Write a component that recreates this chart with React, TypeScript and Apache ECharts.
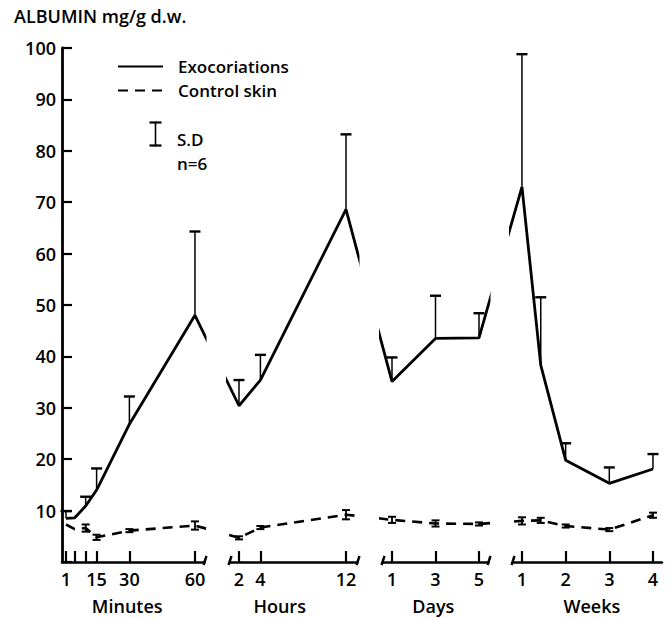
import React, { useEffect, useRef } from "react";
import * as echarts from "echarts";

// ---- Data ----
const minuteTimes = [1, 5, 10, 15, 30, 60];
const minuteExo = [8.5, 8.6, 10.9, 14.0, 26.8, 48.0];
const minuteExoSD = [1.4, null, 1.8, 4.2, 5.4, 16.3];
const minuteCtrl = [7.3, 6.4, 6.6, 4.8, 6.1, 7.1];
const minuteCtrlSD = [null, null, 0.7, 0.5, 0.3, 0.8];
const minuteTicks = [1, 5, 10, 15, 30, 60];
const minuteTickLabels = ["1", "", "", "15", "30", "60"];

const hourTimes = [2, 4, 12];
const hourExo = [30.4, 35.4, 68.6];
const hourExoSD = [5.0, 4.9, 14.6];
const hourCtrl = [4.7, 6.7, 9.2];
const hourCtrlSD = [0.3, 0.3, 0.9];
const hourTicks = [2, 4, 12];
const hourTickLabels = ["2", "4", "12"];

const dayTimes = [1, 3, 5];
const dayExo = [35.1, 43.5, 43.6];
const dayExoSD = [4.7, 8.3, 4.8];
const dayCtrl = [8.2, 7.5, 7.4];
const dayCtrlSD = [0.6, 0.6, 0.3];
const dayTicks = [1, 3, 5];
const dayTickLabels = ["1", "3", "5"];

const weekTimes = [1, 1.43, 2, 3, 4];
const weekExo = [73.0, 38.3, 19.8, 15.3, 18.1];
const weekExoSD = [25.8, 13.2, 3.3, 3.1, 2.9];
const weekCtrl = [8.0, 8.1, 7.0, 6.3, 9.1];
const weekCtrlSD = [0.7, 0.5, 0.3, 0.3, 0.5];
const weekTicks = [1, 2, 3, 4];
const weekTickLabels = ["1", "2", "3", "4"];

const seriesNames = ["Exocoriations", "Control skin"];
const yTicks = [10, 20, 30, 40, 50, 60, 70, 80, 90, 100];

// ---- Broken-axis layout (positions on a shared virtual x scale) ----
const segments = [
  { name: "Minutes", times: minuteTimes, exo: minuteExo, exoSD: minuteExoSD, ctrl: minuteCtrl, ctrlSD: minuteCtrlSD, ticks: minuteTicks, labels: minuteTickLabels, offset: 1.81, scale: 2.186, start: 0, end: 143, nameAt: 29 },
  { name: "Hours", times: hourTimes, exo: hourExo, exoSD: hourExoSD, ctrl: hourCtrl, ctrlSD: hourCtrlSD, ticks: hourTicks, labels: hourTickLabels, offset: 155.6, scale: 10.7, start: 168, end: 296, nameAt: 5.8 },
  { name: "Days", times: dayTimes, exo: dayExo, exoSD: dayExoSD, ctrl: dayCtrl, ctrlSD: dayCtrlSD, ticks: dayTicks, labels: dayTickLabels, offset: 308.25, scale: 21.75, start: 321, end: 427, nameAt: 2.9 },
  { name: "Weeks", times: weekTimes, exo: weekExo, exoSD: weekExoSD, ctrl: weekCtrl, ctrlSD: weekCtrlSD, ticks: weekTicks, labels: weekTickLabels, offset: 416.3, scale: 43.67, start: 451, end: 600, nameAt: 2.6 },
];

const FONT = "'Open Sans', 'Noto Sans', sans-serif";
const FW = 600;

type Seg = (typeof segments)[number];
const toX = (s: Seg, t: number) => s.offset + s.scale * t;

export default function App() {
  const ref = useRef<HTMLDivElement>(null);

  useEffect(() => {
    document.body.style.margin = "0";
    if (!ref.current) return;
    const chart = echarts.init(ref.current, null, { renderer: "svg" });

    const exoLine = segments.flatMap((s) => s.times.map((t, i) => [toX(s, t), s.exo[i]]));
    const ctrlLine = segments.flatMap((s) => s.times.map((t, i) => [toX(s, t), s.ctrl[i]]));
    const exoBars: number[][] = [];
    const ctrlBars: number[][] = [];
    segments.forEach((s) =>
      s.times.forEach((t, i) => {
        if (s.exoSD[i] != null) exoBars.push([toX(s, t), s.exo[i], s.exoSD[i] as number]);
        if (s.ctrlSD[i] != null) ctrlBars.push([toX(s, t), s.ctrl[i], s.ctrlSD[i] as number]);
      })
    );
    const tickValues: number[] = [];
    const labelMap = new Map<string, string>();
    segments.forEach((s) =>
      s.ticks.forEach((t, i) => {
        const v = toX(s, t);
        tickValues.push(v);
        labelMap.set(v.toFixed(3), s.labels[i]);
      })
    );
    const nameValues = segments.map((s) => toX(s, s.nameAt));
    const nameMap = new Map<string, string>();
    segments.forEach((s, i) => nameMap.set(nameValues[i].toFixed(3), s.name));
    const gaps = segments.slice(0, -1).map((s, i) => [s.end, segments[i + 1].start]);

    const black = "#000";

    chart.setOption({
      animation: false,
      title: {
        text: "ALBUMIN mg/g d.w.",
        left: 14,
        top: 7,
        padding: 0,
        textStyle: { fontFamily: FONT, fontSize: 18, fontWeight: FW, color: black },
      },
      legend: {
        data: seriesNames,
        orient: "vertical",
        left: 117,
        top: 58,
        padding: 0,
        z: 30,
        itemWidth: 45,
        itemHeight: 14,
        itemGap: 7,
        selectedMode: false,
        itemStyle: { opacity: 0 },
        textStyle: { fontFamily: FONT, fontSize: 17, fontWeight: FW, color: black, padding: [0, 0, 0, 10] },
      },
      grid: { left: 62, top: 48, width: 600, height: 514, containLabel: false, outerBoundsMode: "none" },
      xAxis: [
        {
          type: "value",
          min: 0,
          max: 600,
          splitLine: { show: false },
          axisLine: { show: true, lineStyle: { color: black, width: 2.5 } },
          axisTick: { show: true, inside: true, length: 11, customValues: tickValues, lineStyle: { color: black, width: 2.2 } },
          axisLabel: {
            customValues: tickValues,
            margin: 8,
            fontFamily: FONT,
            fontSize: 18,
            fontWeight: FW,
            color: black,
            formatter: (v: number) => labelMap.get(Number(v).toFixed(3)) ?? "",
          },
        },
        {
          type: "value",
          position: "bottom",
          offset: 27,
          min: 0,
          max: 600,
          splitLine: { show: false },
          axisLine: { show: false },
          axisTick: { show: false },
          axisLabel: {
            customValues: nameValues,
            margin: 8,
            lineHeight: 18,
            fontFamily: FONT,
            fontSize: 18,
            fontWeight: FW,
            color: black,
            formatter: (v: number) => nameMap.get(Number(v).toFixed(3)) ?? "",
          },
        },
      ],
      yAxis: {
        type: "value",
        min: 0,
        max: 100,
        interval: 10,
        splitLine: { show: false },
        axisLine: { show: true, lineStyle: { color: black, width: 2.8 } },
        axisTick: { show: true, inside: true, length: 10, lineStyle: { color: black, width: 2.2 } },
        axisLabel: {
          margin: 6,
          fontFamily: FONT,
          fontSize: 18,
          fontWeight: FW,
          color: black,
          formatter: (v: number) => (yTicks.includes(v) ? String(v) : ""),
        },
      },
      graphic: [
        {
          type: "group",
          left: 147,
          top: 119,
          z: 30,
          children: [
            { type: "line", shape: { x1: 6, y1: 0, x2: 6, y2: 25 }, style: { stroke: black, lineWidth: 1.6 } },
            { type: "line", shape: { x1: 0, y1: 1, x2: 12, y2: 1 }, style: { stroke: black, lineWidth: 2.2 } },
            { type: "line", shape: { x1: 0, y1: 24, x2: 12, y2: 24 }, style: { stroke: black, lineWidth: 2.2 } },
          ],
        },
        { type: "text", left: 177, top: 131, z: 30, style: { text: "S.D", font: `${FW} 17px ${FONT}`, fill: black } },
        { type: "text", left: 177, top: 155, z: 30, style: { text: "n=6", font: `${FW} 17px ${FONT}`, fill: black } },
      ],
      series: [
        {
          name: seriesNames[0],
          type: "line",
          data: exoLine,
          symbol: "none",
          z: 3,
          lineStyle: { color: black, width: 2.8, type: "solid" },
          itemStyle: { color: black },
        },
        {
          name: seriesNames[1],
          type: "line",
          data: ctrlLine,
          symbol: "none",
          z: 3,
          lineStyle: { color: black, width: 2.6, type: [10, 7] },
          itemStyle: { color: black },
        },
        {
          type: "custom",
          name: "exoSD",
          data: exoBars,
          encode: { x: 0, y: 1 },
          z: 4,
          clip: false,
          renderItem: (_p: any, api: any) => {
            const x = api.value(0), m = api.value(1), sd = api.value(2);
            const b = api.coord([x, m]);
            const t = api.coord([x, m + sd]);
            return {
              type: "group",
              children: [
                { type: "line", shape: { x1: b[0], y1: b[1], x2: t[0], y2: t[1] }, style: { stroke: black, lineWidth: 1.5 } },
                { type: "line", shape: { x1: t[0] - 5.5, y1: t[1], x2: t[0] + 5.5, y2: t[1] }, style: { stroke: black, lineWidth: 2.4 } },
              ],
            };
          },
        },
        {
          type: "custom",
          name: "ctrlSD",
          data: ctrlBars,
          encode: { x: 0, y: 1 },
          z: 4,
          clip: false,
          renderItem: (_p: any, api: any) => {
            const x = api.value(0), m = api.value(1), sd = api.value(2);
            const lo = api.coord([x, m - sd]);
            const hi = api.coord([x, m + sd]);
            return {
              type: "group",
              children: [
                { type: "line", shape: { x1: lo[0], y1: lo[1], x2: hi[0], y2: hi[1] }, style: { stroke: black, lineWidth: 1.8 } },
                { type: "line", shape: { x1: hi[0] - 4, y1: hi[1], x2: hi[0] + 4, y2: hi[1] }, style: { stroke: black, lineWidth: 2 } },
                { type: "line", shape: { x1: lo[0] - 4, y1: lo[1], x2: lo[0] + 4, y2: lo[1] }, style: { stroke: black, lineWidth: 2 } },
              ],
            };
          },
        },
        {
          type: "custom",
          name: "breaks",
          data: gaps,
          encode: { x: 0, y: 1 },
          z: 10,
          clip: false,
          silent: true,
          renderItem: (_p: any, api: any) => {
            const a = api.value(0), b = api.value(1);
            const pa = api.coord([a, 0]);
            const pb = api.coord([b, 0]);
            const top = api.coord([a, 100])[1];
            const y0 = pa[1];
            return {
              type: "group",
              children: [
                { type: "rect", shape: { x: pa[0] + 1.5, y: top - 6, width: pb[0] - pa[0] - 5.5, height: y0 - top + 4 }, style: { fill: "#fff" } },
                { type: "rect", shape: { x: pa[0] + 0.5, y: y0 - 3, width: pb[0] - pa[0] - 1, height: 6 }, style: { fill: "#fff" } },
                { type: "line", shape: { x1: pa[0] - 1.5, y1: y0 + 3, x2: pa[0] + 1.5, y2: y0 - 6 }, style: { stroke: black, lineWidth: 2.4 } },
                { type: "line", shape: { x1: pb[0] - 1.5, y1: y0 + 3, x2: pb[0] + 1.5, y2: y0 - 6 }, style: { stroke: black, lineWidth: 2.4 } },
              ],
            };
          },
        },
      ],
    });

    return () => chart.dispose();
  }, []);

  return <div ref={ref} style={{ width: 671, height: 618 }} />;
}
